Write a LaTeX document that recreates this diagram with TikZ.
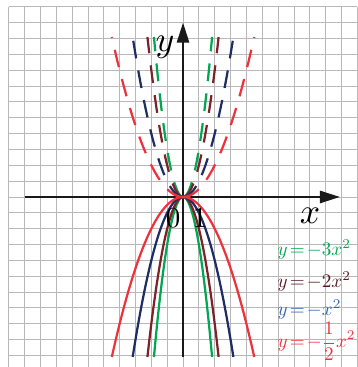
\documentclass[tikz,border=0pt]{standalone}
\usepackage{xcolor}
\usetikzlibrary{arrows.meta}
\definecolor{parGreen}{RGB}{0,166,81}
\definecolor{parBrown}{RGB}{125,35,40}
\definecolor{parNavy}{RGB}{30,45,100}
\definecolor{parRed}{RGB}{238,50,60}
\definecolor{labBlue}{RGB}{50,100,180}
\definecolor{labBrown}{RGB}{85,25,35}

\begin{document}
\begin{tikzpicture}[x=0.5cm,y=0.5cm,every node/.style={inner sep=0pt},gridline/.style={draw=black!28,line width=0.8pt},axis/.style={draw=black!90,line width=1.8pt,-{Triangle[length=18pt,width=11pt]}},lower/.style={line width=2pt,samples=60},upper/.style={line width=2pt,samples=40,dash pattern=on 16pt off 11pt},lbl/.style={scale=3.2},numlbl/.style={scale=2.6},legend/.style={anchor=west,scale=1.72,execute at begin node={\thickmuskip=2mu\medmuskip=2mu}}]
\useasboundingbox (-11.55,-10.73) rectangle (10.98,12.43);
\foreach \i in {-11,...,11} \draw[gridline] (\i,-11) -- (\i,12);
\foreach \j in {-11,...,12} \draw[gridline] (-11,\j) -- (11,\j);
\coordinate (xfrom) at (-10,0);
\coordinate (xto) at (9.9,0);
\coordinate (yfrom) at (0,-10.1);
\coordinate (yto) at (0,11);
\draw[axis] (xfrom) -- (xto);
\draw[axis] (yfrom) -- (yto);
\foreach \s in {1,-1} {
\draw[upper,parGreen] plot[domain=0:\s*1.835] (\x,{3*\x*\x});
\draw[upper,parBrown] plot[domain=0:\s*2.247] (\x,{2*\x*\x});
\draw[upper,parNavy] plot[domain=0:\s*3.178] (\x,{\x*\x});
\draw[upper,parRed] plot[domain=0:\s*4.494] (\x,{0.5*\x*\x});
}
\draw[lower,parGreen] plot[domain=-1.835:1.835] (\x,{-3*\x*\x});
\draw[lower,parBrown] plot[domain=-2.247:2.247] (\x,{-2*\x*\x});
\draw[lower,parNavy] plot[domain=-3.178:3.178] (\x,{-\x*\x});
\draw[lower,parRed] plot[domain=-4.494:4.494] (\x,{-0.5*\x*\x});
\node[lbl] (ylabel) at (-1.14,9.46) {$y$};
\node[lbl] (xlabel) at (8.01,-1.2) {$x$};
\node[numlbl] (zero) at (-0.63,-1.32) {$0$};
\node[numlbl] (one) at (1.07,-1.32) {$1$};
\node[legend,text=parGreen] (leg3) at (5.95,-3.29) {$y=-3x^2$};
\node[legend,text=labBrown] (leg2) at (5.95,-5.35) {$y=-2x^2$};
\node[legend,text=labBlue] (leg1) at (5.95,-7.13) {$y=-x^2$};
\node[legend,text=parRed] (leghalf) at (5.95,-9.13) {$y=-\displaystyle\frac{1}{2}x^2$};
\end{tikzpicture}
\end{document}
